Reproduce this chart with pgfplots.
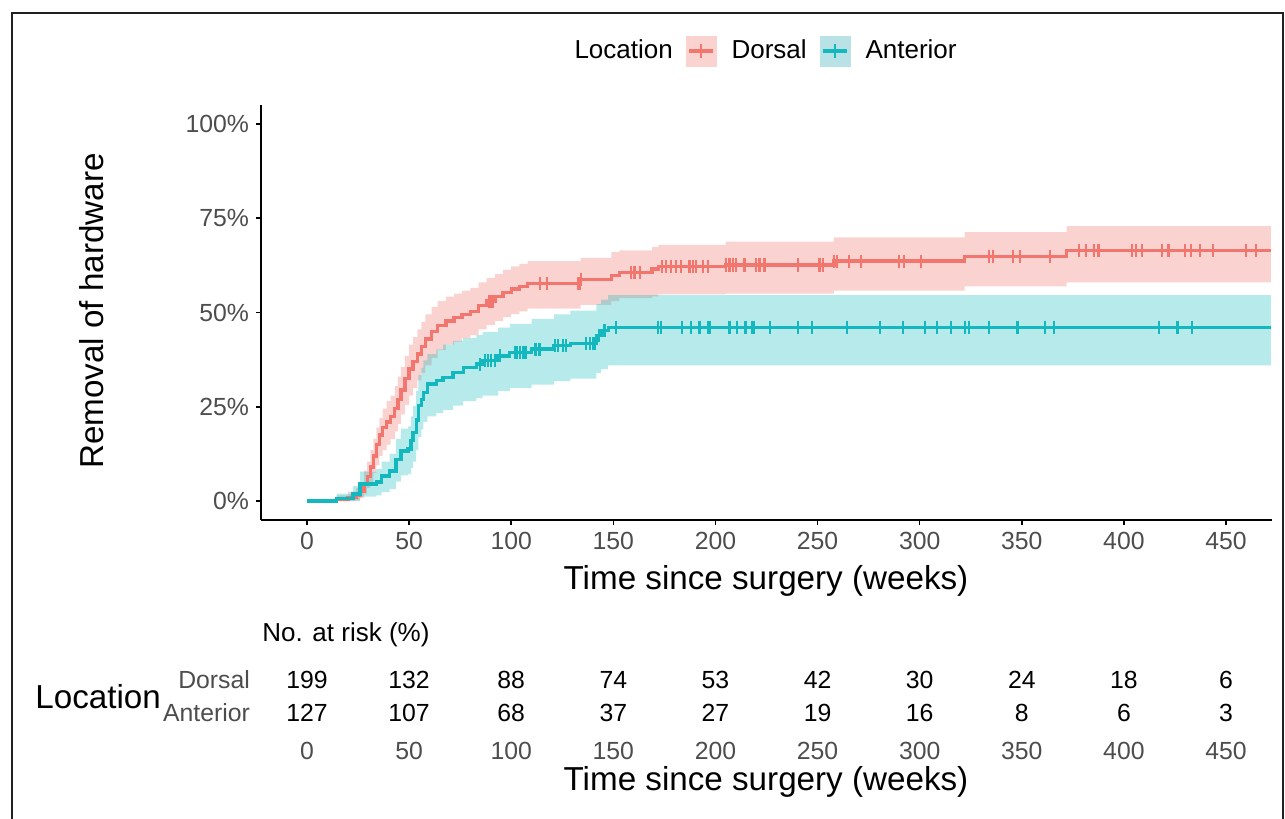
\documentclass[border=0pt]{standalone}
\usepackage{fontspec}
\setmainfont{Liberation Sans}
\usepackage{pgfplots}
\usepackage{pgfplotstable}
\pgfplotsset{compat=1.18}
\usepgfplotslibrary{fillbetween}

\definecolor{dorsal}{HTML}{F2766E}
\definecolor{anterior}{HTML}{12B8BD}
\definecolor{dorsalfill}{HTML}{FAD3D0}
\definecolor{anteriorfill}{HTML}{B8E2E5}
\definecolor{gray30}{HTML}{4D4D4D}
\definecolor{frame}{HTML}{231F20}

\newcommand{\tickfont}{\fontsize{12.4}{14}\selectfont}
\newcommand{\titlefont}{\fontsize{16.6}{19}\selectfont}
\newcommand{\legfont}{\fontsize{13}{15}\selectfont}

% time (weeks), cumulative removal (%), lower / upper CI
\pgfplotstableread{
t s lo up
0 0 0 0
14.5 0.5 0 1.5
20 1.0 0 2.5
24 1.5 0.2 3.5
26 2.5 0.8 5
28 4.5 2 8
29.5 6.5 3.5 10.5
31 9 5 13.5
32.5 12 7.5 16.5
34 15 9.5 19.5
35.5 17.5 12 22
37 19.5 13.5 24.5
39 21 15 26.5
41 22.5 16.5 28
43 24.5 18.5 30.5
44.5 27 20.5 33
46 29.5 23 35.5
48 32.5 25.5 38.5
50 35 28 41.5
52 37 30 43.5
54 39 32 45.5
56 41 34 47.5
58 43 36 49.5
61 45 38 51.5
64 46.5 40 53
68 47.8 41.5 54.2
72 48.6 42.3 55
76 49.5 43.2 55.8
80 50.3 44 56.5
84 51.8 45.5 58
88 53 46.7 59.2
92 54.2 47.8 60.2
96 55.3 48.8 61.3
100 56.2 49.6 62.2
104 56.9 50.3 62.9
108 57.7 51 63.6
134 58.7 52 64.5
149 59.8 53 66
153 60.6 53.8 66.5
169 61.5 54.3 67.3
172 62.2 54.8 67.9
205 62.6 55 68.8
258 63.6 55.8 69.9
322 64.9 56.9 71.3
372 66.4 58 72.9
472 66.4 58 72.9
}\dorsaltab

\pgfplotstableread{
t s lo up
0 0 0 0
14.5 0.7 0 2.0
22.5 1.9 0 4.0
26 4.5 1.2 7.8
34 5.1 1.5 8.5
36.5 6.7 2.4 10.5
40.5 8.0 3.2 12.5
43.5 11.1 5.2 16.5
46 13.3 6.8 19.2
49.5 13.8 7.2 19.8
51 16 8.8 22.5
52 18.2 10.5 25.2
53.5 21.5 13.5 29.2
54.5 25.3 17 33.4
56 27 19 35.3
57 28.8 21 37.3
59 31 22.5 39
63.4 31.9 23.3 40.2
66.7 32.8 24.2 41.5
71.6 34.1 25.3 42.5
76.5 35.5 26.5 43.2
83 36.3 27.3 44
86 37.2 28 44.8
93.6 38.5 29.2 46
99.3 39.4 30 47
110 40.3 30.9 48.3
121 41.2 31.8 49.5
129 41.8 32.5 50.5
141.7 43.9 33.9 52.2
144 45.2 35 53.4
147.5 46.1 36 54.6
472 46.1 36 54.6
}\anttab

% censored observations
\pgfplotstableread{
t s
89 53
90 53
91 53
114 57.7
117.5 57.7
132.7 57.7
133.5 57.7
134.3 58.7
158.8 60.6
160.4 60.6
162.9 60.6
173.9 62.2
175.9 62.2
178.3 62.2
180.8 62.2
183.2 62.2
187.3 62.2
188.9 62.2
190.6 62.2
193.8 62.2
196.3 62.2
205.3 62.6
206.9 62.6
208.5 62.6
210.1 62.6
214.2 62.6
219.9 62.6
221.6 62.6
224 62.6
240.3 62.6
250.9 62.6
252.8 62.6
258.2 63.6
259.4 63.6
265.2 63.6
271.3 63.6
290 63.6
292.5 63.6
300.6 63.6
334 64.9
335.7 64.9
345.5 64.9
349 64.9
363.7 64.9
378.1 66.4
381.6 66.4
385.4 66.4
387.5 66.4
404.1 66.4
406.1 66.4
408.7 66.4
418.8 66.4
421.8 66.4
429.9 66.4
432.7 66.4
437.1 66.4
443.6 66.4
459.9 66.4
464.5 66.4
}\dorsalcens

\pgfplotstableread{
t s
84.6 36.3
87 37.2
88.7 37.2
90.3 37.2
91.9 37.2
94.4 38.5
101.7 39.4
103 39.4
104.5 39.4
106 39.4
107.4 39.4
111.5 40.3
112.3 40.3
113.9 40.3
121.3 41.2
122.9 41.2
125.4 41.2
127 41.2
136.8 41.8
138.4 41.8
140 41.8
141.2 41.8
143 43.9
145.7 45.2
151.5 46.1
171.8 46.1
173.5 46.1
183.7 46.1
188.1 46.1
192.2 46.1
196.3 46.1
197.4 46.1
206.9 46.1
210.6 46.1
214.7 46.1
217.8 46.1
218.8 46.1
226.9 46.1
240.3 46.1
247.3 46.1
264.3 46.1
280.6 46.1
291.7 46.1
302.7 46.1
308.4 46.1
315.3 46.1
322.3 46.1
324 46.1
334 46.1
347.9 46.1
361.4 46.1
365.8 46.1
417.2 46.1
426.2 46.1
433.5 46.1
}\antcens

% number at risk: row 2 = Dorsal, row 1 = Anterior
\pgfplotstableread{
t row n
0 2 199
50 2 132
100 2 88
150 2 74
200 2 53
250 2 42
300 2 30
350 2 24
400 2 18
450 2 6
0 1 127
50 1 107
100 1 68
150 1 37
200 1 27
250 1 19
300 1 16
350 1 8
400 1 6
450 1 3
}\risk

\begin{document}
\begin{tikzpicture}
\draw[frame, line width=1pt] (6pt,-409.5pt) -- (6pt,-6.5pt) -- (641.5pt,-6.5pt) -- (641.5pt,-409.5pt);

\begin{axis}[
  at={(130.5pt,-260pt)}, anchor=south west,
  scale only axis, width=505.5pt, height=207.5pt,
  xmin=-22.5, xmax=472.5, ymin=-5, ymax=105,
  axis x line*=bottom, axis y line*=left,
  axis line style={black, line width=0.8pt},
  tick style={black, line width=0.8pt},
  tick align=outside, major tick length=2.5pt,
  xtick={0,50,...,450}, ytick={0,25,50,75,100},
  yticklabels={0\%,25\%,50\%,75\%,100\%},
  ticklabel style={font=\tickfont, text=gray30},
  /pgf/number format/assume math mode=true,
  legend columns=-1,
  legend style={at={(axis description cs:0.6884,1.1301)}, anchor=east,
    draw=none, fill=none, inner sep=0pt, font=\legfont,
    nodes={inner sep=0pt},
    /tikz/every even column/.append style={column sep=6.5pt},
    /tikz/every odd column/.append style={column sep=7.5pt}},
]
\addlegendimage{empty legend}
\addlegendentry{Location}
\addlegendimage{legend image code/.code={
  \fill[dorsalfill] (0pt,-7.5pt) rectangle (15pt,7.5pt);
  \draw[dorsal, line width=1.6pt] (1.5pt,0pt) -- (13.5pt,0pt);
  \draw[dorsal, line width=1.1pt] (7.5pt,-3.3pt) -- (7.5pt,3.3pt);}}
\addlegendentry{Dorsal}
\addlegendimage{legend image code/.code={
  \fill[anteriorfill] (0pt,-7.5pt) rectangle (15pt,7.5pt);
  \draw[anterior, line width=1.6pt] (1.5pt,0pt) -- (13.5pt,0pt);
  \draw[anterior, line width=1.1pt] (7.5pt,-3.3pt) -- (7.5pt,3.3pt);}}
\addlegendentry{Anterior}

\addplot[name path=dU, draw=none, const plot, forget plot] table[x=t,y=up]{\dorsaltab};
\addplot[name path=dL, draw=none, const plot, forget plot] table[x=t,y=lo]{\dorsaltab};
\addplot[fill=dorsalfill, draw=none, forget plot] fill between[of=dU and dL];
\addplot[name path=aU, draw=none, const plot, forget plot] table[x=t,y=up]{\anttab};
\addplot[name path=aL, draw=none, const plot, forget plot] table[x=t,y=lo]{\anttab};
\addplot[fill=anterior, fill opacity=0.3, draw=none, forget plot] fill between[of=aU and aL];

\addplot[dorsal, line width=1.7pt, const plot, forget plot] table[x=t,y=s]{\dorsaltab};
\addplot[anterior, line width=1.7pt, const plot, forget plot] table[x=t,y=s]{\anttab};
\addplot[dorsal, only marks, mark=|, mark size=3.3pt, mark options={line width=1.1pt}, forget plot] table[x=t,y=s]{\dorsalcens};
\addplot[anterior, only marks, mark=|, mark size=3.3pt, mark options={line width=1.1pt}, forget plot] table[x=t,y=s]{\antcens};
\end{axis}

\begin{axis}[
  at={(130.5pt,-364.75pt)}, anchor=south west,
  scale only axis, width=505.5pt, height=33pt,
  xmin=-22.5, xmax=472.5, ymin=0.5, ymax=2.5,
  axis x line*=bottom, axis y line*=left,
  axis line style={draw=none}, tick style={draw=none}, major tick length=0pt,
  xtick={0,50,...,450}, ytick={1,2}, yticklabels={Anterior,Dorsal},
  ticklabel style={font=\tickfont, text=gray30},
  /pgf/number format/assume math mode=true,
  yticklabel style={xshift=-2pt},
  xticklabel style={yshift=-2.75pt},
]
\addplot[only marks, mark=*, mark size=0pt, mark options={draw=none, fill=none},
  nodes near coords, point meta=explicit symbolic,
  every node near coord/.append style={anchor=center, font=\tickfont, text=black}]
  table[x=t, y=row, meta=n]{\risk};
\end{axis}

\node[font=\titlefont, anchor=base] at (383pt,-294.5pt) {Time since surgery (weeks)};
\node[font=\titlefont, anchor=base] at (383pt,-395pt) {Time since surgery (weeks)};
\node[font=\titlefont, rotate=90] at (46pt,-155.5pt) {Removal of hardware};
\node[font=\legfont, anchor=base west, inner sep=0pt] at (131pt,-320.5pt) {No. at risk (\%)};
\node[font=\titlefont, anchor=base west, inner sep=0pt] at (17.5pt,-354pt) {Location};
\pgfresetboundingbox
\useasboundingbox (0,0) rectangle (642.5pt,-409.5pt);
\end{tikzpicture}
\end{document}
